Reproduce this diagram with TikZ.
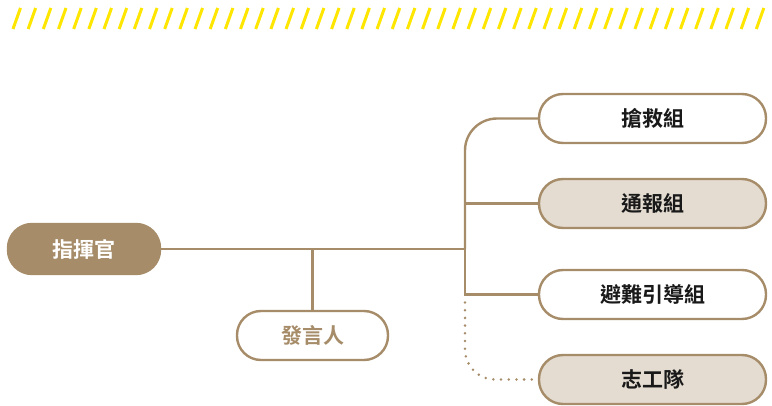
\documentclass[tikz,border=0pt]{standalone}
\usepackage{fontspec}
\newfontfamily\cjk{Noto Sans CJK TC}[BoldFont={Noto Sans CJK TC Bold}]
\definecolor{brown}{HTML}{A68C68}
\definecolor{sand}{HTML}{E4DCD1}
\definecolor{stripe}{HTML}{FFE600}
\begin{document}
\begin{tikzpicture}[x=1pt,y=-1pt,
    pill/.style={draw=brown,line width=2.4pt,rounded corners=24pt,minimum width=227pt,
        minimum height=49pt,inner sep=0pt,font=\cjk\bfseries\fontsize{21}{21}\selectfont,text=black!90},
    link/.style={draw=brown,line width=2.4pt}]
    \useasboundingbox (0,0) rectangle (772,406);
    % top stripes
    \foreach \i in {0,...,49}
        \draw[stripe,line width=3pt] (13+\i*15.17,29) -- (20.5+\i*15.17,8);
    % nodes
    \node[pill,fill=brown,draw=brown,text=white,minimum width=152pt,minimum height=50pt] (chief) at (84,249) {指揮官};
    \node[pill,fill=white,text=brown,minimum width=151pt] (spokes) at (312.5,335.5) {發言人};
    \node[pill,fill=white] (rescue) at (652.5,118.5) {搶救組};
    \node[pill,fill=sand] (report) at (652.5,203.5) {通報組};
    \node[pill,fill=white] (evac) at (652.5,294.5) {避難引導組};
    \node[pill,fill=sand] (volun) at (652.5,379.5) {志工隊};
    \coordinate (trunk) at (465,249);
    % connectors
    \draw[link] (chief.east) -- (trunk);
    \draw[link] (spokes.north) -- (spokes.north |- chief.east);
    \draw[link,rounded corners=32pt] (trunk) -- (trunk |- rescue.west) -- (rescue.west);
    \draw[link] (trunk |- report.west) -- (report.west);
    \draw[link] (trunk) |- (evac.west);
    \draw[link,line width=2.8pt,line cap=round,dash pattern=on 0pt off 7.7pt,rounded corners=30pt]
        ([yshift=-8pt]trunk |- evac.west) |- (volun.west);
\end{tikzpicture}
\end{document}
